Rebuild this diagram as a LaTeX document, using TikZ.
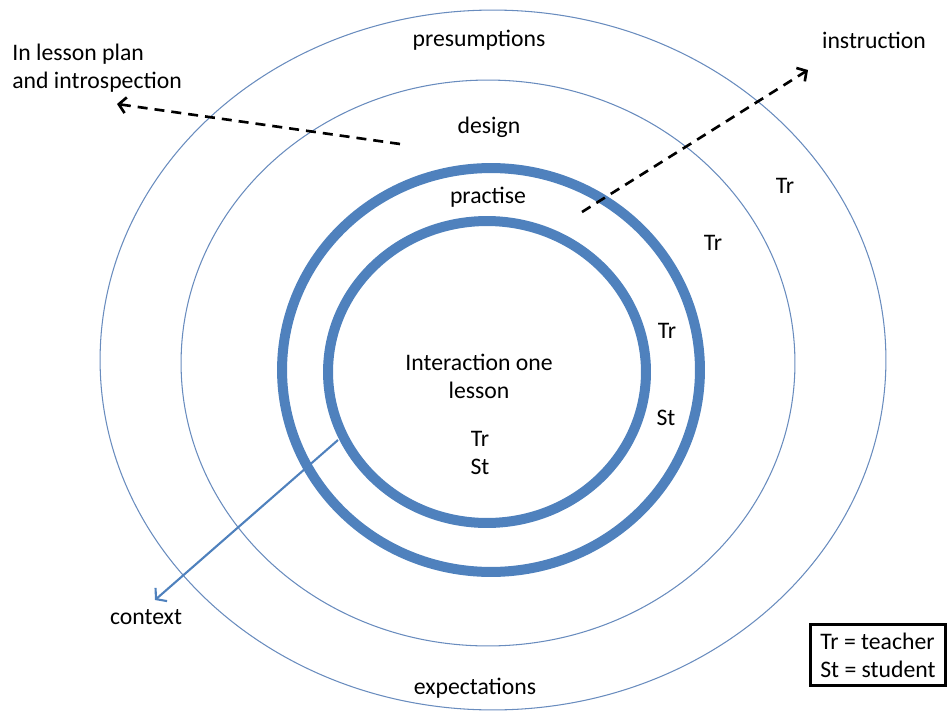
\documentclass[tikz,border=0pt]{standalone}
\usepackage{fontspec}
\setmainfont{Carlito}
\usepackage{tikz}
\usetikzlibrary{arrows.meta, positioning, calc}
\definecolor{colRing}{RGB}{79, 129, 189}
\definecolor{colLine}{RGB}{105, 140, 190}

\begin{document}
\begin{tikzpicture}[x=0.02cm, y=-0.02cm,
    every node/.style={font=\fontsize{13.5}{16}\selectfont, inner sep=0pt},
    thinring/.style={draw=colLine, line width=0.6pt},
    thickring/.style={draw=colRing, line width=0.2cm},
    dasharrow/.style={line width=1.5pt, dash pattern=on 0.2cm off 0.14cm,
        -{Straight Barb[length=4pt, width=9pt]}},
    ctxarrow/.style={draw=colRing, line width=1.2pt,
        -{Straight Barb[length=4pt, width=10pt]}}]
    \useasboundingbox (0,0) rectangle (949,713);

    % --- Ringe ---
    \draw[thinring] (493,360) ellipse [x radius=7.86cm, y radius=7cm];
    \draw[thinring] (488,363) ellipse [x radius=6.14cm, y radius=5.66cm];
    \draw[thickring] (491,370) ellipse [x radius=4.18cm, y radius=4.04cm];
    \draw[thickring] (487,372) ellipse [x radius=3.18cm, y radius=3.02cm];

    % --- Labels ---
    \node (presum) at (479,40) {presumptions};
    \node (design) at (489,127) {design};
    \node (practise) at (488,197) {practise};
    \node (expect) at (475,688) {expectations};
    \node (interact) [align=center] at (479,376) {Interaction one\\lesson};
    \node (inner) [align=center] at (480,453) {Tr\\St};
    \node (trOuter) at (785,186) {Tr};
    \node (trDesign) at (713,243) {Tr};
    \node (trPract) at (667,331) {Tr};
    \node (stPract) at (666,418) {St};
    \node (plan) [anchor=west, align=left] at (12,68) {In lesson plan\\and introspection};
    \node (instr) at (874,40) {instruction};
    \node (context) at (146,617) {context};

    % --- Legende ---
    \node (legend) [draw, line width=1.5pt, align=left, anchor=west,
        inner xsep=0.2cm, inner ysep=0.16cm] at (809,655) {Tr = teacher\\St = student};

    % --- Pfeile ---
    \coordinate (planFrom) at (400,144);
    \coordinate (planTo) at (117,104);
    \coordinate (instrFrom) at (582,212);
    \coordinate (instrTo) at (808,70);
    \coordinate (ctxFrom) at (338,440);
    \coordinate (ctxTo) at (155,600);
    \draw[dasharrow] (planFrom) -- (planTo);
    \draw[dasharrow] (instrFrom) -- (instrTo);
    \draw[ctxarrow] (ctxFrom) -- (ctxTo);
\end{tikzpicture}
\end{document}
